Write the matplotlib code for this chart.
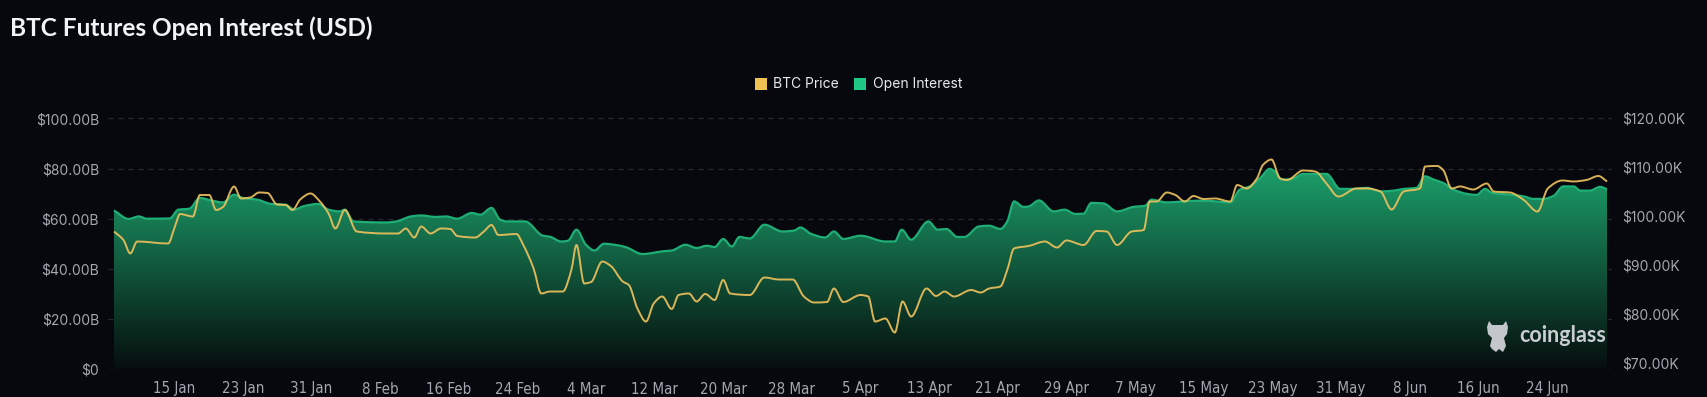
import numpy as np
import pandas as pd
import matplotlib
matplotlib.use("Agg")
import matplotlib.pyplot as plt
import matplotlib.dates as mdates
from matplotlib import font_manager
from matplotlib.patches import Rectangle, Polygon, PathPatch
from matplotlib.path import Path
from matplotlib.ticker import FuncFormatter, FixedLocator

# ---------------- data ----------------
start_date = "2025-01-08"

oi_day = [0, 1.7, 2.9, 3.8, 6.5, 7.5, 8.8, 10.0, 11.3, 12.7, 14.0, 15.0, 16.7, 18.3, 20.0,
          21.0, 22.1, 23.8, 25.0, 26.3, 26.9, 27.9, 31.7, 32.9, 34.6, 35.8, 37.5, 38.7, 40.0,
          41.7, 42.7, 44.0, 45.0, 45.8, 47.9, 50.0, 50.8, 52.1, 52.9, 53.9, 55.0, 56.0, 57.1,
          58.3, 59.6, 61.6, 64.0, 65.0, 66.6, 67.9, 69.1, 70.0, 71.0, 72.0, 72.9, 74.1, 75.8,
          77.9, 79.3, 80.0, 81.2, 82.9, 83.9, 85.0, 87.0, 89.9, 91.0, 91.8, 92.9, 94.9, 96.0,
          97.0, 98.3, 99.1, 100.8, 102.0, 103.3, 104.1, 104.9, 106.0, 106.6, 107.8, 109.5,
          110.8, 112.0, 113.0, 113.9, 115.3, 116.9, 118.8, 120.2, 120.9, 122.7, 124.6, 126.6,
          128.5, 130.1, 131.2, 132.4, 133.6, 134.7, 135.3, 136.1, 137.3, 138.6, 141.3, 142.9,
          144.4, 146.0, 147.6, 149.1, 150.3, 151.8, 152.8, 153.8, 154.9, 156.1, 157.7, 158.8,
          159.8, 160.6, 162.7, 164.3, 165.4, 166.6, 167.8, 168.9, 170.1, 170.9, 172.0, 173.2,
          174.0]
oi_usd_b = [63.3, 59.9, 60.9, 60.0, 60.1, 63.6, 64.0, 68.3, 67.3, 66.5, 69.6, 68.3, 67.6, 65.9,
            65.6, 63.6, 65.0, 65.9, 63.6, 62.9, 63.6, 58.9, 58.5, 58.9, 60.9, 61.3, 60.7, 60.9,
            60.0, 62.3, 61.6, 64.3, 59.6, 58.9, 58.9, 53.2, 52.8, 50.9, 51.2, 55.6, 49.6, 47.3,
            50.0, 49.6, 48.7, 45.9, 47.0, 47.3, 49.6, 48.3, 49.2, 48.7, 51.9, 48.9, 52.7, 52.1,
            57.6, 54.9, 55.3, 56.5, 54.0, 52.5, 54.9, 51.9, 53.2, 50.9, 50.9, 55.6, 51.6, 58.9,
            55.6, 55.9, 52.7, 52.7, 56.9, 57.2, 55.9, 58.9, 66.9, 64.7, 64.9, 67.3, 62.9, 63.6,
            61.9, 62.0, 66.3, 66.1, 62.9, 64.7, 65.2, 67.6, 66.5, 66.9, 67.2, 66.9, 66.5, 71.6,
            72.9, 76.3, 79.9, 78.9, 75.6, 75.9, 77.9, 77.9, 71.9, 71.9, 72.3, 70.9, 71.2, 71.9,
            72.3, 76.9, 75.6, 74.3, 71.6, 69.9, 69.5, 71.9, 70.3, 69.6, 68.9, 67.9, 67.9, 69.2,
            72.9, 72.9, 71.2, 71.2, 72.7, 71.8]

price_day = [0, 1.1, 1.9, 2.7, 6.3, 7.1, 7.7, 9.2, 10.0, 11.1, 11.9, 12.7, 14.0, 14.8, 15.9,
             16.9, 17.9, 19.0, 20.0, 20.8, 21.7, 22.9, 24.0, 25.0, 25.8, 26.9, 28.3, 31.7, 33.1,
             34.0, 35.0, 35.8, 36.9, 38.1, 39.2, 40.0, 42.1, 43.1, 44.0, 44.8, 46.9, 47.7, 48.9,
             49.8, 50.8, 52.3, 53.3, 53.9, 54.8, 55.6, 56.9, 57.9, 59.3, 60.0, 61.0, 62.0, 62.9,
             63.9, 65.0, 65.8, 67.0, 67.9, 68.9, 70.0, 71.0, 71.8, 74.1, 75.8, 77.5, 79.1, 80.4,
             81.6, 83.1, 83.9, 85.0, 87.0, 87.9, 88.7, 89.9, 91.0, 91.9, 92.9, 94.7, 95.8, 96.8,
             97.9, 99.9, 101.0, 102.0, 103.3, 104.1, 104.9, 106.6, 108.5, 109.9, 111.0, 113.0,
             114.5, 115.7, 116.9, 118.6, 120.0, 120.7, 121.5, 122.7, 123.7, 124.8, 125.8, 127.0,
             128.3, 130.1, 130.9, 132.0, 133.2, 133.9, 134.9, 135.9, 136.7, 138.6, 140.0, 141.3,
             142.7, 144.8, 146.0, 147.6, 148.9, 150.3, 152.2, 152.8, 154.2, 154.9, 155.9, 156.9,
             158.4, 160.0, 160.8, 162.7, 164.3, 165.9, 167.1, 168.8, 170.1, 171.6, 173.0, 174.0]
price_usd_k = [96.74, 95.01, 92.26, 94.70, 94.30, 97.76, 100.31, 99.80, 104.19, 104.19, 101.13,
               101.74, 105.92, 103.48, 103.69, 104.70, 104.60, 102.25, 102.15, 101.13, 103.27,
               104.50, 102.86, 100.42, 97.36, 101.13, 96.74, 96.34, 96.34, 97.36, 95.52, 97.76,
               96.34, 97.36, 97.25, 95.83, 95.52, 96.74, 98.07, 96.03, 96.23, 93.99, 89.20, 84.10,
               84.50, 84.50, 88.89, 93.99, 86.14, 86.44, 90.62, 89.71, 86.54, 85.83, 81.04, 78.38,
               82.06, 83.48, 80.94, 83.79, 84.10, 82.47, 84.00, 82.77, 86.85, 84.10, 83.79, 87.36,
               86.95, 86.95, 83.48, 82.26, 82.36, 85.12, 82.36, 83.79, 83.48, 78.38, 79.00, 76.14,
               82.47, 79.40, 85.12, 83.59, 84.50, 83.48, 84.81, 84.30, 85.12, 85.52, 88.89, 93.28,
               93.79, 94.70, 93.48, 94.91, 93.99, 96.85, 96.74, 93.99, 96.74, 97.05, 102.86,
               102.86, 104.70, 104.19, 102.86, 103.98, 103.37, 103.48, 102.86, 106.23, 105.52,
               107.56, 110.31, 111.43, 107.56, 107.25, 109.19, 108.98, 106.54, 103.88, 105.52,
               105.52, 104.90, 101.23, 104.90, 105.52, 110.00, 110.11, 109.29, 105.52, 105.93,
               105.31, 106.54, 104.90, 104.70, 103.17, 100.82, 105.52, 107.15, 106.95, 107.25,
               108.07, 106.95]

left_ticks_b = [0, 20, 40, 60, 80, 100]
right_ticks_k = [70, 80, 90, 100, 110, 120]
first_tick = "2025-01-15"
last_tick = "2025-06-24"
tick_step_days = 8

title = "BTC Futures Open Interest (USD)"
legend_labels = ["BTC Price", "Open Interest"]

# ---------------- style ----------------
W, H = 1707, 397
BG = "#07080d"
GRID = "#262a32"
TXT = "#a4a7ae"
PRICE_C = "#ecc05c"
OI_LINE_C = "#1fae76"
LEG_PRICE = "#efc052"
LEG_OI = "#1fc784"


def px_x(p):
    return p / W


def px_y(p):
    return 1 - p / H


def smooth_path(x, y, close_to=None):
    """Monotone cubic (PCHIP-style) Bezier path through the given points."""
    x = np.asarray(x, float)
    y = np.asarray(y, float)
    n = len(x)
    h = np.diff(x)
    s = np.diff(y) / h
    m = np.zeros(n)
    m[0], m[-1] = s[0], s[-1]
    for i in range(1, n - 1):
        if s[i - 1] * s[i] > 0:
            w1 = 2 * h[i] + h[i - 1]
            w2 = h[i] + 2 * h[i - 1]
            m[i] = (w1 + w2) / (w1 / s[i - 1] + w2 / s[i])
        else:
            m[i] = 0.0
    verts = [(x[0], y[0])]
    codes = [Path.MOVETO]
    for i in range(n - 1):
        verts += [(x[i] + h[i] / 3, y[i] + m[i] * h[i] / 3),
                  (x[i + 1] - h[i] / 3, y[i + 1] - m[i + 1] * h[i] / 3),
                  (x[i + 1], y[i + 1])]
        codes += [Path.CURVE4] * 3
    if close_to is not None:
        verts += [(x[-1], close_to), (x[0], close_to), (x[0], y[0])]
        codes += [Path.LINETO, Path.LINETO, Path.CLOSEPOLY]
    return Path(verts, codes)


t0 = pd.Timestamp(start_date)
oi_x = mdates.date2num(t0 + pd.to_timedelta(oi_day, unit="D"))
pr_x = mdates.date2num(t0 + pd.to_timedelta(price_day, unit="D"))
oi_v = np.array(oi_usd_b)
pr_v = np.array(price_usd_k)

fig = plt.figure(figsize=(W / 100, H / 100), dpi=100, facecolor=BG)

ax_l, ax_r = 108, 1612
ax_top, ax_bot = 100, 369
ax = fig.add_axes([px_x(ax_l), px_y(ax_bot), px_x(ax_r - ax_l), (ax_bot - ax_top) / H])
ax.set_facecolor(BG)
ax2 = ax.twinx()
ax2.patch.set_visible(False)

# scales (left: $0 at y=369, $100B at y=118.5 ; right: $70K at 362.6, $120K at 117.5)
b_per_px = 100 / (369 - 118.5)
k_per_px = 50 / (362.6 - 117.5)
ax2.set_ylim(70 - (ax_bot - 362.6) * k_per_px, 70 + (362.6 - ax_top) * k_per_px)

# gradient area for open interest
area_path = smooth_path(oi_x, oi_v, close_to=0.0)
clip = PathPatch(area_path, transform=ax.transData, facecolor="none", edgecolor="none")
ax.add_patch(clip)
top_c = np.array([28, 160, 107]) / 255
bot_c = np.array([6, 14, 13]) / 255
tt = np.linspace(0, 1, 256)[:, None]
grad = (top_c[None, :] * (1 - tt) + bot_c[None, :] * tt)[:, None, :]
im = ax.imshow(grad, extent=[oi_x.min(), oi_x.max(), 0, oi_v.max() + 1], aspect="auto",
               origin="upper", zorder=2, interpolation="bilinear")
im.set_clip_path(clip)
ax.add_patch(PathPatch(smooth_path(oi_x, oi_v), transform=ax.transData, fill=False,
                       edgecolor=OI_LINE_C, lw=1.6, zorder=3, joinstyle="round"))

# price line
ax2.add_patch(PathPatch(smooth_path(pr_x, pr_v), transform=ax2.transData, fill=False,
                        edgecolor=PRICE_C, lw=1.4, alpha=0.92, zorder=4, joinstyle="round"))

# x range
days_per_px = 1 / 8.58
ax.set_xlim(oi_x.min() - (114 - ax_l) * days_per_px, oi_x.max() + (ax_r - 1607) * days_per_px)
ax.set_ylim(0, (ax_bot - ax_top) * b_per_px)
ax2.set_ylim(70 - (ax_bot - 362.6) * k_per_px, 70 + (362.6 - ax_top) * k_per_px)

# grid
ax.yaxis.set_major_locator(FixedLocator(left_ticks_b))
ax.grid(axis="y", color=GRID, lw=0.9, ls=(0, (4, 4)), zorder=1)
ax.grid(axis="x", visible=False)
ax.set_axisbelow(True)
for a in (ax, ax2):
    for s in a.spines.values():
        s.set_visible(False)

# fonts
def pick_condensed():
    for f in font_manager.fontManager.ttflist:
        if "dejavusanscondensed.ttf" in f.fname.lower():
            return f.fname
    for f in font_manager.fontManager.ttflist:
        fn = f.fname.lower()
        if "narrow" in fn and "bold" not in fn and "italic" not in fn:
            return f.fname
    return None

cond = pick_condensed()
if cond:
    xfont = font_manager.FontProperties(fname=cond, size=10.8)
else:
    xfont = font_manager.FontProperties(family="Roboto", size=9.8)
yfont = font_manager.FontProperties(family="Inter", size=10)

# left y ticks
ax.yaxis.set_major_formatter(FuncFormatter(lambda v, p: "$0" if v == 0 else f"${v:.2f}B"))
ax.tick_params(axis="y", length=0, pad=6.5, colors=TXT)
for lab in ax.get_yticklabels():
    lab.set_fontproperties(yfont)

# right y ticks
ax2.yaxis.set_major_locator(FixedLocator(right_ticks_k))
ax2.yaxis.set_major_formatter(FuncFormatter(lambda v, p: f"${v:.2f}K"))
ax2.tick_params(axis="y", length=0, pad=7.2, colors=TXT)
for lab in ax2.get_yticklabels():
    lab.set_fontproperties(yfont)

# x ticks
ticks = pd.date_range(first_tick, last_tick, freq=f"{tick_step_days}D")
ax.set_xticks(mdates.date2num(ticks))
ax.set_xticklabels([f"{d.day} {d.strftime('%b')}" for d in ticks])
ax.tick_params(axis="x", length=0, pad=9, colors=TXT)
for lab in ax.get_xticklabels():
    lab.set_fontproperties(xfont)

# bottom axis line (dashed)
ax.axhline(0, color=GRID, lw=0.9, ls=(0, (4, 4)), zorder=1)

# title
fig.text(px_x(10), px_y(28), title, color="#f2f3f5", fontsize=17.6, fontweight="bold",
         family="Lato", va="center", ha="left")

# legend
sq = 12
fig.add_artist(Rectangle((px_x(755), px_y(90)), sq / W, sq / H, transform=fig.transFigure,
                         facecolor=LEG_PRICE, edgecolor="none"))
fig.text(px_x(773), px_y(84), legend_labels[0], color="#e8e9ec", fontsize=10, family="Inter",
         va="center", ha="left")
fig.add_artist(Rectangle((px_x(854), px_y(90)), sq / W, sq / H, transform=fig.transFigure,
                         facecolor=LEG_OI, edgecolor="none"))
fig.text(px_x(873), px_y(84), legend_labels[1], color="#e8e9ec", fontsize=10, family="Inter",
         va="center", ha="left")

# watermark
logo_pts = [(1489, 321), (1492, 325), (1503, 325), (1506, 321), (1508, 327), (1507, 334),
            (1504, 338), (1506, 346), (1503, 352), (1499, 349), (1496, 352), (1492, 349),
            (1490, 346), (1492, 338), (1488, 334), (1487, 327)]
fig.add_artist(Polygon([(px_x(a), px_y(b)) for a, b in logo_pts], closed=True,
                       transform=fig.transFigure, facecolor="#c3c7cb", edgecolor="none"))
fig.text(px_x(1519), px_y(336), "coinglass", color="#c9cdd1", fontsize=15.5, fontweight="bold",
         family="Lato", va="center", ha="left")

fig.savefig("out.png", dpi=100, facecolor=BG)
